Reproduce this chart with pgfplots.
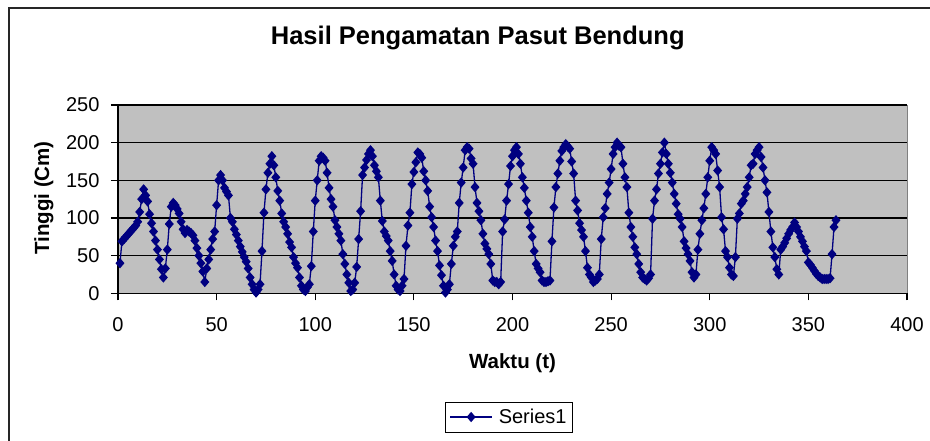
\documentclass[border=0pt]{standalone}
\usepackage{fontspec}
\setmainfont{Liberation Sans}
\usepackage{pgfplots}
\usepackage{pgfplotstable}
\pgfplotsset{compat=1.18}
\definecolor{navyser}{RGB}{0,0,128}
\definecolor{plotgray}{RGB}{192,192,192}
\pgfplotstableread{
t h
1 40
2 69
3 72
4 75
5 78
6 81
7 84
8 87
9 90
10 95
11 108
12 125
13 138
14 130
15 122
16 105
17 93
18 82
19 70
20 58
21 45
22 32
23 21
24 33
25 58
26 92
27 115
28 120
29 117
30 112
31 106
32 95
33 85
34 80
35 84
36 82
37 80
38 77
39 70
40 60
41 50
42 40
43 29
44 15
45 33
46 45
47 58
48 72
49 82
50 117
51 150
52 157
53 150
54 140
55 135
56 130
57 100
58 95
59 85
60 78
61 70
62 62
63 55
64 48
65 42
66 33
67 21
68 12
69 5
70 1
71 5
72 12
73 56
74 107
75 138
76 160
77 172
78 182
79 170
80 154
81 136
82 123
83 106
84 95
85 88
86 79
87 68
88 61
89 48
90 40
91 34
92 21
93 10
94 5
95 3
96 8
97 12
98 36
99 82
100 123
101 150
102 176
103 182
104 180
105 176
106 160
107 140
108 125
109 115
110 97
111 88
112 79
113 70
114 52
115 39
116 25
117 14
118 3
119 5
120 14
121 35
122 72
123 109
124 157
125 167
126 177
127 185
128 190
129 182
130 170
131 162
132 154
133 123
134 96
135 82
136 76
137 70
138 56
139 43
140 25
141 10
142 5
143 3
144 10
145 19
146 63
147 90
148 107
149 145
150 161
151 174
152 187
153 185
154 180
155 162
156 150
157 136
158 115
159 101
160 88
161 70
162 56
163 37
164 24
165 10
166 1
167 5
168 12
169 39
170 63
171 75
172 82
173 120
174 147
175 167
176 190
177 194
178 192
179 179
180 172
181 141
182 120
183 109
184 97
185 79
186 66
187 59
188 52
189 39
190 17
191 15
192 15
193 12
194 15
195 82
196 98
197 123
198 145
199 169
200 182
201 190
202 194
203 185
204 172
205 154
206 140
207 123
208 107
209 88
210 75
211 56
212 39
213 33
214 28
215 17
216 15
217 15
218 16
219 17
220 69
221 114
222 141
223 159
224 176
225 189
226 194
227 198
228 195
229 192
230 175
231 159
232 123
233 110
234 93
235 84
236 75
237 56
238 34
239 25
240 21
241 15
242 17
243 19
244 25
245 72
246 101
247 113
248 132
249 147
250 165
251 185
252 194
253 200
254 196
255 194
256 172
257 154
258 141
259 107
260 88
261 75
262 61
263 52
264 39
265 28
266 21
267 19
268 17
269 20
270 25
271 99
272 123
273 138
274 159
275 172
276 187
277 200
278 185
279 172
280 160
281 147
282 132
283 119
284 105
285 99
286 88
287 69
288 60
289 52
290 43
291 28
292 21
293 25
294 58
295 79
296 97
297 113
298 132
299 154
300 176
301 194
302 190
303 185
304 163
305 141
306 101
307 85
308 56
309 48
310 34
311 25
312 23
313 48
314 99
315 106
316 119
317 123
318 132
319 141
320 154
321 170
322 172
323 185
324 190
325 194
326 181
327 167
328 150
329 134
330 108
331 82
332 61
333 48
334 32
335 25
336 58
337 62
338 67
339 73
340 79
341 84
342 88
343 94
344 88
345 82
346 75
347 69
348 62
349 56
350 41
351 38
352 34
353 30
354 26
355 23
356 21
357 19
358 19
359 19
360 19
361 20
362 52
363 88
364 97
}\pasut
\begin{document}
\begin{tikzpicture}[x=1pt,y=1pt]
\useasboundingbox[fill=white] (0,0) rectangle (930,441);
\draw[line width=1.5pt,black!85] (9,0) -- (9,433) -- (930,433);
\begin{axis}[
  at={(118pt,147.7pt)}, anchor=south west,
  scale only axis, width=789pt, height=188.3pt,
  xmin=0, xmax=400, ymin=0, ymax=250,
  xtick={0,50,...,400}, ytick={0,50,...,250},
  axis background/.style={fill=plotgray, draw=gray},
  axis x line*=bottom, axis y line*=left,
  axis line style={black, line width=1.2pt, -},
  tick align=outside, major tick length=7pt,
  tick style={black, line width=1.2pt},
  ymajorgrids, grid style={black, line width=1.2pt},
  tick label style={font=\fontsize{20}{24}\selectfont},
  xticklabel style={yshift=-14pt},
  yticklabel style={xshift=-8pt},
  /pgf/number format/assume math mode=true,
  title={Hasil Pengamatan Pasut Bendung},
  title style={font=\bfseries\fontsize{25.5}{30}\selectfont, at={(axis description cs:0.456,1.324)}, anchor=center},
  xlabel={Waktu (t)},
  xlabel style={font=\bfseries\fontsize{20.5}{24}\selectfont, at={(axis description cs:0.5,-0.37)}, anchor=center},
  ylabel={Tinggi (Cm)},
  ylabel style={font=\bfseries\fontsize{20.5}{24}\selectfont, at={(axis description cs:-0.094,0.506)}, anchor=center},
  legend style={at={(axis description cs:0.4956,-0.657)}, anchor=center, draw=black, line width=1pt, font=\fontsize{20}{24}\selectfont, inner xsep=4pt, inner ysep=5pt},
  legend image code/.code={\path (0pt,0pt) (46pt,0pt);\draw[#1, mark repeat=2, mark phase=2] plot coordinates {(0pt,0pt) (21pt,0pt) (42pt,0pt)};},
  clip=false,
]
\addplot[navyser, line width=1.3pt, mark=diamond*, mark size=4.2pt, mark options={solid, xscale=1.15}] table[x=t,y=h]{\pasut};
\addlegendentry{Series1}
\end{axis}
\end{tikzpicture}
\end{document}
